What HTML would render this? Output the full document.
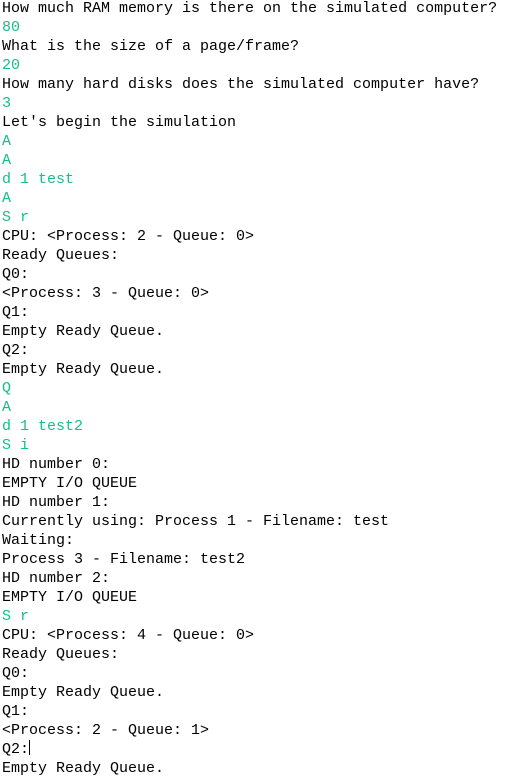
<!DOCTYPE html>
<html><head><meta charset="utf-8"><style>
html,body{margin:0;padding:0;background:#fff;width:523px;height:778px;overflow:hidden}
pre{margin:0;position:absolute;left:2px;top:-1px;font-family:"Liberation Mono",monospace;font-size:15px;line-height:19px;color:#000}
.g{color:#13c08a}
.cur{display:inline-block;width:1px;height:15px;background:#000;vertical-align:-2px}
</style></head><body>
<pre>How much RAM memory is there on the simulated computer?
<span class="g">80</span>
What is the size of a page/frame?
<span class="g">20</span>
How many hard disks does the simulated computer have?
<span class="g">3</span>
Let's begin the simulation
<span class="g">A</span>
<span class="g">A</span>
<span class="g">d 1 test</span>
<span class="g">A</span>
<span class="g">S r</span>
CPU: &lt;Process: 2 - Queue: 0&gt;
Ready Queues:
Q0:
&lt;Process: 3 - Queue: 0&gt;
Q1:
Empty Ready Queue.
Q2:
Empty Ready Queue.
<span class="g">Q</span>
<span class="g">A</span>
<span class="g">d 1 test2</span>
<span class="g">S i</span>
HD number 0:
EMPTY I/O QUEUE
HD number 1:
Currently using: Process 1 - Filename: test
Waiting:
Process 3 - Filename: test2
HD number 2:
EMPTY I/O QUEUE
<span class="g">S r</span>
CPU: &lt;Process: 4 - Queue: 0&gt;
Ready Queues:
Q0:
Empty Ready Queue.
Q1:
&lt;Process: 2 - Queue: 1&gt;
Q2:<span class="cur"></span>
Empty Ready Queue.</pre>
</body></html>
